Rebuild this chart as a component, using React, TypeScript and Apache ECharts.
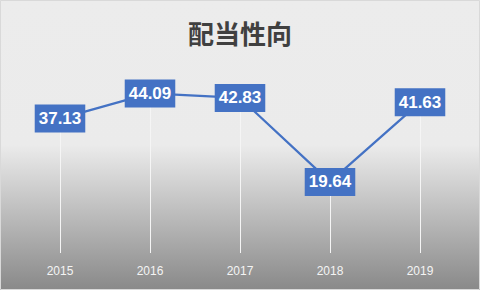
import React, { useEffect, useRef } from "react";
import * as echarts from "echarts";

const categories = ["2015", "2016", "2017", "2018", "2019"];
const payoutRatio = [37.13, 44.09, 42.83, 19.64, 41.63];
const chartTitle = "配当性向";

export default function App() {
  const ref = useRef<HTMLDivElement>(null);
  useEffect(() => {
    if (!ref.current) return;
    const chart = echarts.init(ref.current, undefined, { renderer: "svg" });
    chart.setOption({
      animation: false,
      backgroundColor: new echarts.graphic.LinearGradient(0, 0, 0, 1, [
        { offset: 0, color: "#ECECEC" },
        { offset: 0.5, color: "#EBEBEB" },
        { offset: 1, color: "#898989" },
      ]),
      title: {
        text: chartTitle,
        left: "center",
        top: 14,
        textStyle: {
          fontFamily: "Noto Sans CJK JP",
          fontSize: 26,
          fontWeight: "bold",
          color: "#404040",
        },
      },
      graphic: [
        {
          type: "rect",
          shape: { x: 0.5, y: 0.5, width: 479, height: 289 },
          style: { fill: "none", stroke: "#D9D9D9", lineWidth: 1 },
          silent: true,
          z: 100,
        },
      ],
      grid: { left: 15, right: 15, top: 72, bottom: 37 },
      xAxis: {
        type: "category",
        data: categories,
        boundaryGap: true,
        axisLine: { show: false },
        axisTick: { show: false },
        splitLine: { show: false },
        axisLabel: {
          color: "#F4F4F4",
          fontSize: 12,
          fontFamily: "Liberation Sans",
          margin: 12,
        },
      },
      yAxis: {
        type: "value",
        min: 0,
        max: 50,
        show: false,
        splitLine: { show: false },
      },
      series: [
        {
          type: "line",
          data: payoutRatio,
          symbol: "circle",
          symbolSize: 1,
          itemStyle: { color: "#4472C4" },
          lineStyle: {
            color: "#4472C4",
            width: 2.25,
          },
          label: {
            show: true,
            position: "inside",
            formatter: (p: any) => p.value.toFixed(2),
            backgroundColor: "#4472C4",
            color: "#FFFFFF",
            fontFamily: "Liberation Sans",
            fontWeight: "bold",
            fontSize: 17,
            lineHeight: 20,
            padding: [4, 4, 4, 4],
          },
          markLine: {
            silent: true,
            symbol: "none",
            label: { show: false },
            lineStyle: { color: "#F5F5F5", width: 1, type: "solid" },
            data: categories.map((c, i) => [
              { coord: [c, payoutRatio[i]] },
              { coord: [c, 0] },
            ]),
            z: 1,
          },
          z: 3,
        },
      ],
    });
    return () => chart.dispose();
  }, []);
  return (
    <div
      ref={ref}
      style={{ position: "fixed", left: 0, top: 0, width: 480, height: 290 }}
    />
  );
}
